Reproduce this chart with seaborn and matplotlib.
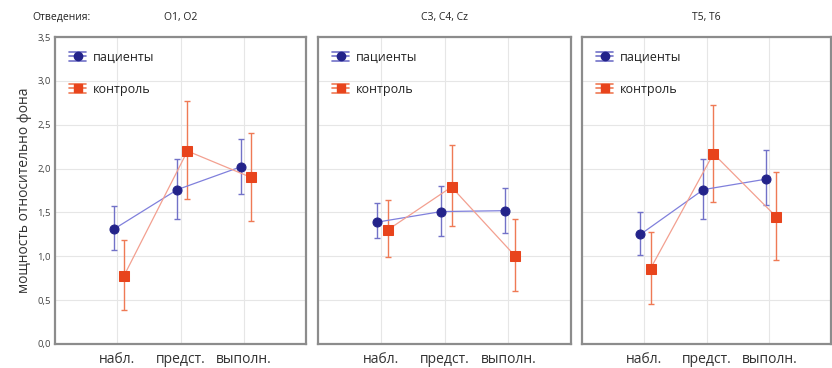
import numpy as np
import pandas as pd
import matplotlib
matplotlib.use("Agg")
import matplotlib.pyplot as plt
from matplotlib.legend_handler import HandlerBase
from matplotlib.lines import Line2D
import seaborn as sns

sns.set_theme(style="whitegrid")
plt.rcParams["font.family"] = ["Open Sans", "DejaVu Sans"]

# Conditions and recording sites
conditions = ["набл.", "предст.", "выполн."]
sites = ["O1, O2", "C3, C4, Cz", "T5, T6"]
groups = ["пациенты", "контроль"]

# Means and error-bar limits (low, high) per site, per group
pat_mean = [[1.31, 1.76, 2.02], [1.39, 1.51, 1.52], [1.25, 1.76, 1.88]]
pat_low = [[1.07, 1.42, 1.71], [1.21, 1.23, 1.26], [1.01, 1.42, 1.58]]
pat_high = [[1.57, 2.11, 2.34], [1.61, 1.80, 1.78], [1.51, 2.11, 2.21]]

ctl_mean = [[0.78, 2.20, 1.90], [1.30, 1.79, 1.00], [0.86, 2.17, 1.45]]
ctl_low = [[0.39, 1.65, 1.40], [0.99, 1.35, 0.60], [0.46, 1.62, 0.96]]
ctl_high = [[1.19, 2.77, 2.41], [1.64, 2.27, 1.42], [1.28, 2.73, 1.96]]

y_ticks = [0.0, 0.5, 1.0, 1.5, 2.0, 2.5, 3.0, 3.5]
y_tick_labels = ["0,0", "0,5", "1,0", "1,5", "2,0", "2,5", "3,0", "3,5"]

styles = {
    "пациенты": dict(line="#8080dc", face="#23238a", err="#7272c8", marker="o", ms=6.5, shift=-0.05),
    "контроль": dict(line="#f3a090", face="#e8441c", err="#ef7a55", marker="s", ms=6.5, shift=0.11),
}


class ErrHandle(HandlerBase):
    def __init__(self, color, face, marker):
        super().__init__()
        self.color, self.face, self.marker = color, face, marker

    def create_artists(self, legend, orig, xd, yd, w, h, fs, trans):
        arts = []
        ym = h / 2 - yd
        for dy in (-h * 0.4, 0, h * 0.4):
            arts.append(Line2D([-xd, -xd + w], [ym + dy, ym + dy], color=self.color,
                               lw=1.2, transform=trans))
        arts.append(Line2D([-xd + w / 2], [ym], marker=self.marker, color=self.face,
                           markersize=6, linestyle="none", transform=trans))
        return arts


fig = plt.figure(figsize=(8.32, 3.68), dpi=100)
lefts = [55, 318, 582]
widths = [251, 253, 249]
bottom = 1 - 344 / 368
height = (344 - 37) / 368

for i, site in enumerate(sites):
    ax = fig.add_axes([lefts[i] / 832, bottom, widths[i] / 832, height])
    rows = []
    for g, m, lo, hi in [("пациенты", pat_mean[i], pat_low[i], pat_high[i]),
                         ("контроль", ctl_mean[i], ctl_low[i], ctl_high[i])]:
        for k in range(3):
            rows.append(dict(group=g, x=k + styles[g]["shift"], mean=m[k], low=lo[k], high=hi[k]))
    df = pd.DataFrame(rows)

    for g in groups:
        s = styles[g]
        sub = df[df.group == g]
        ax.errorbar(sub.x, sub["mean"], yerr=[sub["mean"] - sub.low, sub.high - sub["mean"]],
                    fmt="none", ecolor=s["err"], elinewidth=1.0, capsize=2.5, capthick=1.0, zorder=3)
        sns.lineplot(data=sub, x="x", y="mean", ax=ax, color=s["line"], lw=0.9,
                     marker=s["marker"], markersize=s["ms"], markerfacecolor=s["face"],
                     markeredgecolor=s["face"], legend=False, zorder=4, sort=False)

    ax.set_xlim(-0.98, 2.98)
    ax.set_ylim(0, 3.5)
    ax.set_xticks(range(3))
    ax.set_xticklabels(conditions, fontsize=10, color="#333333")
    ax.set_yticks(y_ticks)
    ax.set_xlabel("")
    ax.set_ylabel("")
    ax.grid(True, color="#e6e6e6", lw=0.8)
    for sp in ax.spines.values():
        sp.set_color("#8c8c8c")
        sp.set_linewidth(1.6)
    ax.tick_params(axis="x", pad=6, length=0)
    if i == 0:
        ax.set_yticklabels(y_tick_labels, fontsize=6.8, color="#444444")
        ax.tick_params(axis="y", pad=3, length=0)
        ax.set_ylabel("мощность относительно фона", fontsize=10, color="#333333", labelpad=4)
    else:
        ax.set_yticklabels([])
        ax.tick_params(axis="y", length=0)
    ax.set_title(site, fontsize=7.5, color="#222222", pad=12)

    handles = [Line2D([], []), Line2D([], [])]
    ax.legend(handles, groups, loc="upper left", frameon=False, fontsize=9,
              handler_map={handles[0]: ErrHandle(styles["пациенты"]["err"], styles["пациенты"]["face"], "o"),
                           handles[1]: ErrHandle(styles["контроль"]["err"], styles["контроль"]["face"], "s")},
              handlelength=1.4, handleheight=1.0, labelspacing=1.5, borderaxespad=0.7,
              handletextpad=0.5, labelcolor="#222222")

fig.text(32 / 832, 1 - 17 / 368, "Отведения:", fontsize=7.5, color="#222222", va="center")

fig.savefig("out.png", dpi=100)
